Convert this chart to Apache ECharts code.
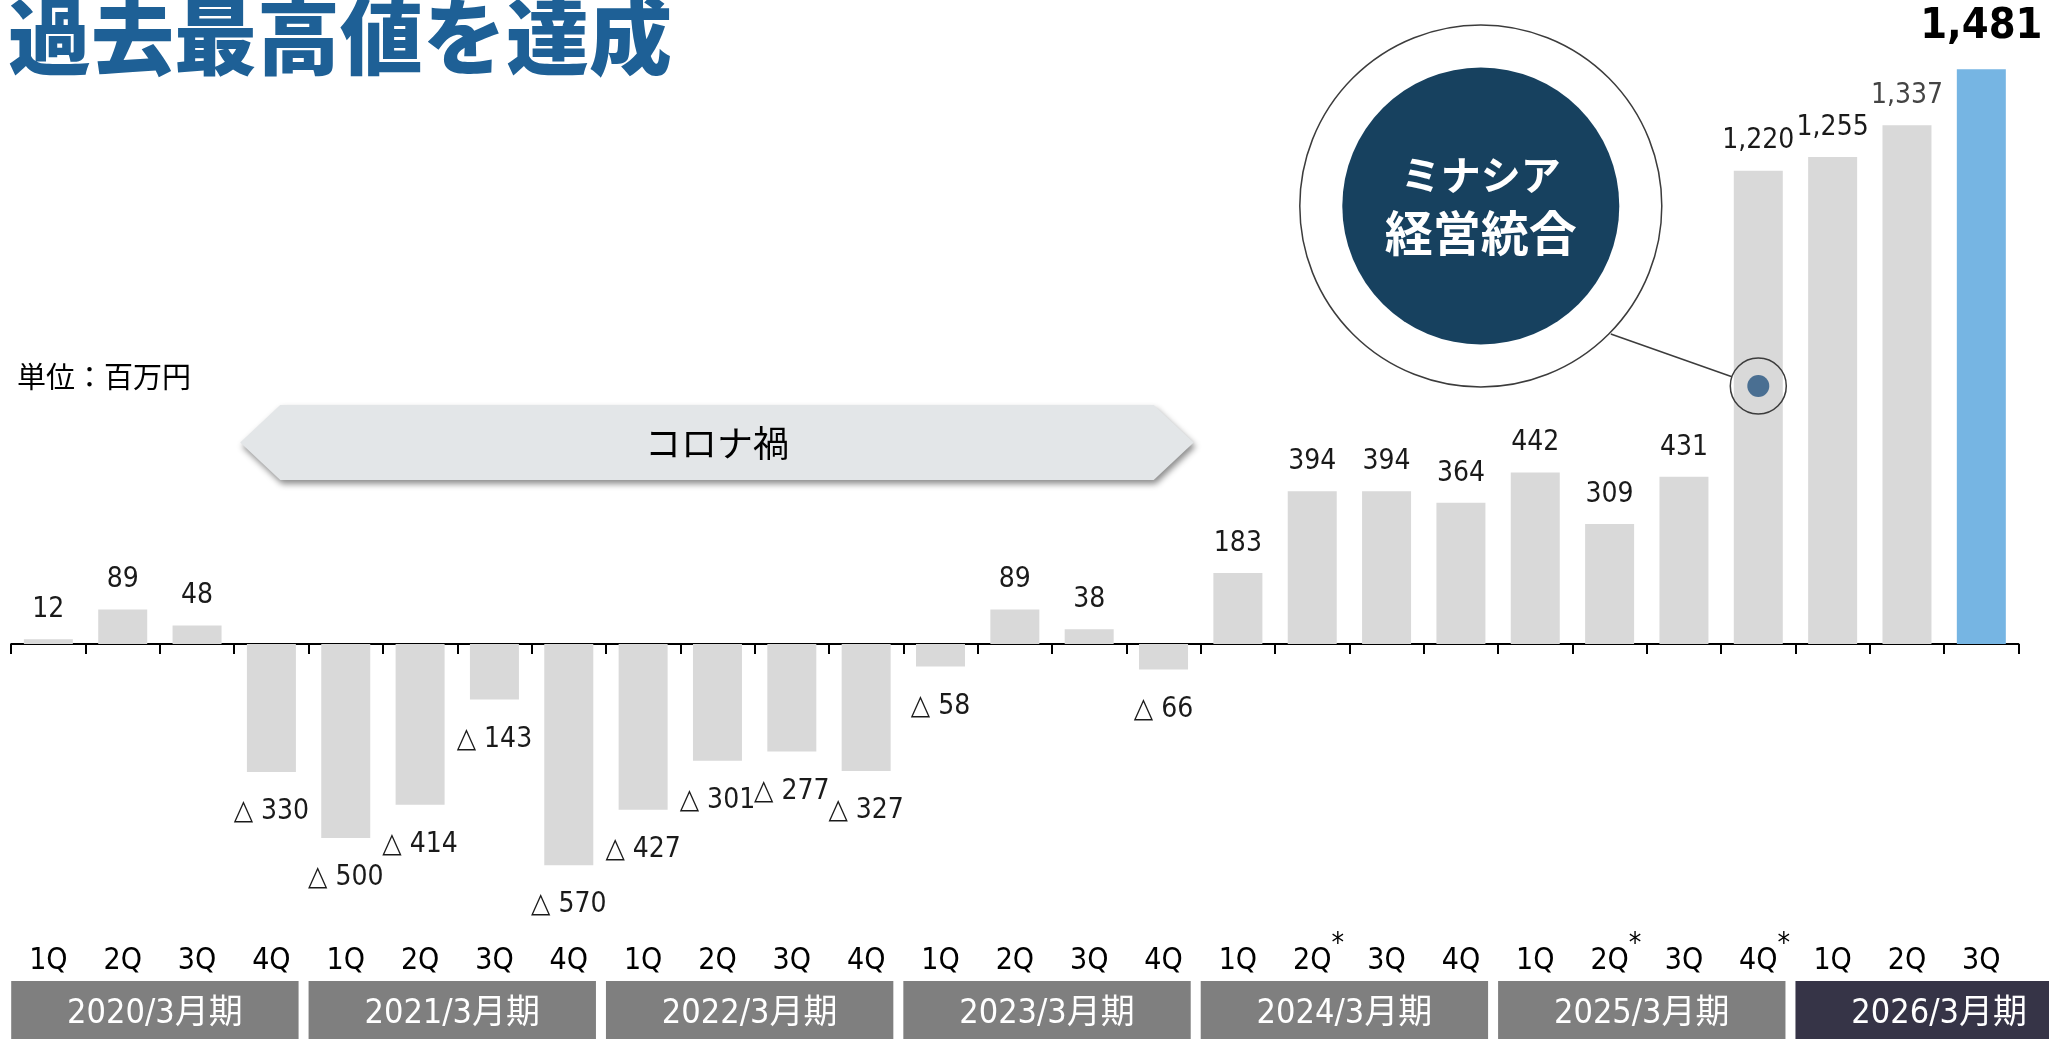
<!DOCTYPE html>
<html>
<head>
<meta charset="utf-8">
<script src="https://cdn.jsdelivr.net/npm/echarts@6/dist/echarts.min.js"></script>
<style>
  html, body { margin: 0; padding: 0; background: #ffffff; }
  #chart { width: 2049px; height: 1039px; }
</style>
</head>
<body>
<div id="chart"></div>
<script>
// Quarterly operating profit (millions of yen), FY2020/3 to FY2026/3 3Q
const quarters = [
  '1Q', '2Q', '3Q', '4Q', '1Q', '2Q', '3Q', '4Q', '1Q', '2Q', '3Q', '4Q',
  '1Q', '2Q', '3Q', '4Q', '1Q', '2Q', '3Q', '4Q', '1Q', '2Q', '3Q', '4Q',
  '1Q', '2Q', '3Q'
];
const fiscalYears = ['2020/3月期', '2021/3月期', '2022/3月期', '2023/3月期', '2024/3月期', '2025/3月期', '2026/3月期'];
const profit = [
  12, 89, 48, -330,
  -500, -414, -143, -570,
  -427, -301, -277, -327,
  -58, 89, 38, -66,
  183, 394, 394, 364,
  442, 309, 431, 1220,
  1255, 1337, 1481
];
const starredQuarters = [17, 21, 23];   // quarters carrying a footnote mark
const mutedLabels = [25];               // value label printed in a lighter grey
const covidSpan = [3, 15];              // first and last quarter under the banner
const mergerQuarter = 23;               // quarter of the Minasia integration

const NUM_FONT = '"DejaVu Sans Condensed", "DejaVu Sans", "Noto Sans CJK JP", sans-serif';
const JP_FONT = '"Noto Sans CJK JP", sans-serif';

const chart = echarts.init(document.getElementById('chart'), null, { renderer: 'canvas' });

const barData = profit.map((v, i) => {
  const latest = i === profit.length - 1;
  let label;
  if (v < 0) {
    label = { position: 'bottom', distance: 26 };
  } else if (latest) {
    label = { position: 'top', distance: 21, fontSize: 43, lineHeight: 43, fontWeight: 'bold', color: '#000000' };
  } else {
    label = { position: 'top', distance: 15.5 };
  }
  if (mutedLabels.includes(i)) label.color = '#444444';
  return {
    value: v,
    itemStyle: { color: latest ? '#76b5e3' : '#d9d9d9' },
    label: label
  };
});

function renderYearBands(params, api) {
  const i = params.dataIndex;
  const w = api.size([1, 0])[0];
  const x0 = api.coord([api.value(0), 0])[0] - w / 2;
  const bw = w * 4 - 10;
  const dark = i === fiscalYears.length - 1;
  return {
    type: 'group',
    children: [
      { type: 'rect', shape: { x: x0, y: 981, width: bw, height: 60 },
        style: { fill: dark ? '#363447' : '#7f7f7f' } },
      { type: 'text',
        style: { text: fiscalYears[i], x: x0 + bw / 2, y: 1014, align: 'center', verticalAlign: 'middle',
                 fill: '#ffffff', font: '34px ' + NUM_FONT } }
    ]
  };
}

function renderCovidBanner(params, api) {
  const w = api.size([1, 0])[0];
  const xl = api.coord([api.value(0), 0])[0] - w / 2 + 6;
  const xr = api.coord([api.value(2), 0])[0] + w / 2 - 7;
  const top = 405, bot = 480, mid = (top + bot) / 2, slant = 40;
  return {
    type: 'group',
    children: [
      { type: 'polygon',
        shape: { points: [[xl, mid], [xl + slant, top], [xr - slant, top], [xr, mid], [xr - slant, bot], [xl + slant, bot]] },
        style: { fill: '#e3e6e8', shadowBlur: 6, shadowOffsetX: 2, shadowOffsetY: 4, shadowColor: 'rgba(0,0,0,0.45)' } },
      { type: 'text',
        style: { text: 'コロナ禍', x: (xl + xr) / 2, y: mid + 1, align: 'center', verticalAlign: 'middle',
                 fill: '#000000', font: '36px ' + JP_FONT } }
    ]
  };
}

function renderMergerNote(params, api) {
  const mx = api.coord([api.value(0), 0])[0];
  const my = 386;
  const cx = mx - 277.5, cy = 206;
  const lx = cx + 130, ly = cy + 128;
  const dx = mx - lx, dy = my - ly, len = Math.sqrt(dx * dx + dy * dy);
  return {
    type: 'group',
    children: [
      { type: 'line', shape: { x1: lx, y1: ly, x2: mx - 28 * dx / len, y2: my - 28 * dy / len },
        style: { stroke: '#3c3c3c', lineWidth: 1.5 } },
      { type: 'circle', shape: { cx: cx, cy: cy, r: 181 },
        style: { fill: '#ffffff', stroke: '#3c3c3c', lineWidth: 1.5 } },
      { type: 'circle', shape: { cx: cx, cy: cy, r: 138.5 }, style: { fill: '#17415f' } },
      { type: 'text',
        style: { text: 'ミナシア', x: cx, y: cy - 31, align: 'center', verticalAlign: 'middle',
                 fill: '#ffffff', font: 'bold 40px ' + JP_FONT } },
      { type: 'text',
        style: { text: '経営統合', x: cx, y: cy + 27, align: 'center', verticalAlign: 'middle',
                 fill: '#ffffff', font: 'bold 48px ' + JP_FONT } },
      { type: 'circle', shape: { cx: mx, cy: my, r: 28 },
        style: { fill: 'none', stroke: '#3c3c3c', lineWidth: 1.5 } },
      { type: 'circle', shape: { cx: mx, cy: my, r: 11 }, style: { fill: '#4a6f92' } }
    ]
  };
}

const option = {
  animation: false,
  backgroundColor: '#ffffff',
  graphic: [
    { type: 'text', left: 8, top: -5,
      style: { text: '過去最高値を達成', font: '900 83px ' + JP_FONT, fill: '#1e6096' } },
    { type: 'text', left: 17, top: 362,
      style: { text: '単位：百万円', font: '29px ' + JP_FONT, fill: '#000000' } }
  ],
  grid: { left: 11.2, right: 30.5, top: 62, bottom: 162.2, containLabel: false, outerBoundsMode: 'none' },
  xAxis: {
    type: 'category',
    data: quarters,
    axisLine: { onZero: true, lineStyle: { color: '#000000', width: 2 } },
    axisTick: { show: true, interval: 0, length: 10, lineStyle: { color: '#000000', width: 2 } },
    axisLabel: {
      interval: 0,
      hideOverlap: false,
      margin: 53.6,
      formatter: (value, index) => starredQuarters.includes(index)
        ? '{h|*}{q|' + value + '}{s|*}'
        : '{q|' + value + '}',
      rich: {
        q: { fontFamily: NUM_FONT, fontSize: 30, lineHeight: 61, color: '#000000' },
        h: { fontFamily: NUM_FONT, fontSize: 28, lineHeight: 61, color: 'rgba(0,0,0,0)', verticalAlign: 'top' },
        s: { fontFamily: NUM_FONT, fontSize: 28, lineHeight: 61, color: '#000000', verticalAlign: 'top' }
      }
    },
    splitLine: { show: false }
  },
  yAxis: {
    type: 'value', min: -600, max: 1500, show: false,
    splitLine: { show: false }
  },
  series: [
    {
      type: 'bar',
      data: barData,
      barWidth: 49,
      z: 2,
      label: {
        show: true,
        fontFamily: NUM_FONT,
        fontSize: 28,
        lineHeight: 28,
        color: '#1a1a1a',
        formatter: p => p.value < 0 ? '△ ' + Math.abs(p.value) : p.value.toLocaleString('en-US')
      }
    },
    {
      type: 'custom',
      coordinateSystem: 'cartesian2d',
      renderItem: renderYearBands,
      data: fiscalYears.map((_, k) => [k * 4, 0]),
      clip: false,
      silent: true,
      z: 3
    },
    {
      type: 'custom',
      coordinateSystem: 'cartesian2d',
      renderItem: renderCovidBanner,
      data: [[covidSpan[0], 0, covidSpan[1]]],
      encode: { x: 0, y: 1 },
      clip: false,
      silent: true,
      z: 3
    },
    {
      type: 'custom',
      coordinateSystem: 'cartesian2d',
      renderItem: renderMergerNote,
      data: [[mergerQuarter, 0]],
      clip: false,
      silent: true,
      z: 5
    }
  ]
};

chart.setOption(option);
</script>
</body>
</html>
